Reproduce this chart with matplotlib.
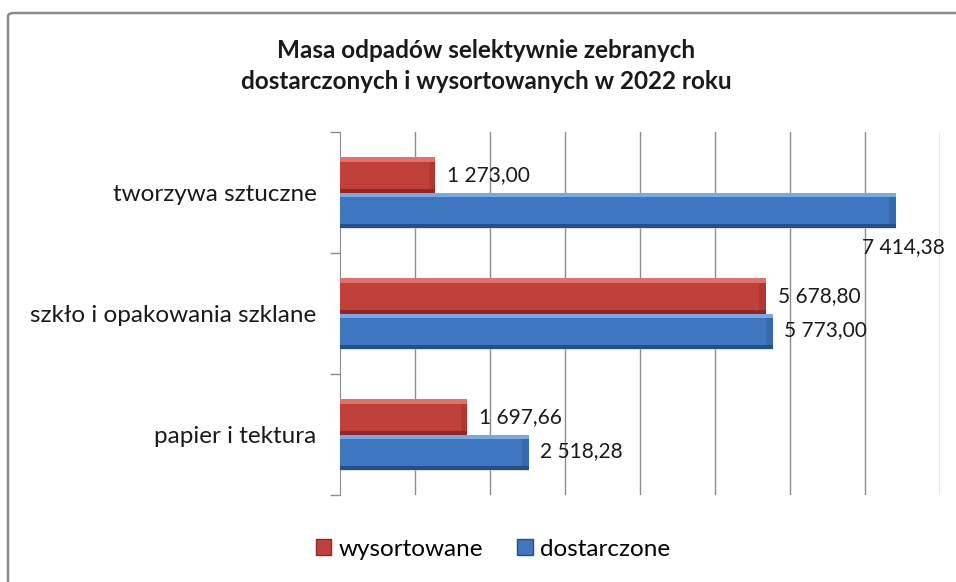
import matplotlib.pyplot as plt
from matplotlib.patches import FancyBboxPatch, Rectangle

# --- dane ---
categories = ["papier i tektura", "szkło i opakowania szklane", "tworzywa sztuczne"]
wysortowane = [1697.66, 5678.80, 1273.00]
dostarczone = [2518.28, 5773.00, 7414.38]
series_names = ["wysortowane", "dostarczone"]

title = "Masa odpadów selektywnie zebranych\ndostarczonych i wysortowanych w 2022 roku"

# kolory (czerwony / niebieski z efektem skosu)
red = {"main": "#C0413B", "light": "#E2706B", "dark": "#8E2824"}
blue = {"main": "#3F76C0", "light": "#78A8E6", "dark": "#234F8A"}

plt.rcParams['font.family'] = ['Lato', 'DejaVu Sans']

W, H = 956, 582
fig = plt.figure(figsize=(W / 100, H / 100), dpi=100)

# ramka wykresu (wychodzi poza prawą i dolną krawędź)
frame = FancyBboxPatch((8 / W, -0.05), 1.1, 1 - 13 / H + 0.05,
                       boxstyle="round,pad=0,rounding_size=0.006",
                       transform=fig.transFigure, facecolor="none",
                       edgecolor="#8C8C8C", linewidth=1.8, zorder=0)
fig.patches.append(frame)

ax = fig.add_axes([340 / W, 1 - 495 / H, 600 / W, 363 / H])
ax.set_facecolor("none")
ax.set_zorder(2)

bh = 0.29
y = list(range(len(categories)))


def fmt(v):
    return f"{v:,.2f}".replace(",", " ").replace(".", ",")


def bevel_bars(vals, ypos, col):
    # cień
    ax.barh([p - 0.015 for p in ypos], vals, height=bh, left=0,
            color="#BFBFBF", alpha=0.5, zorder=2)
    ax.barh(ypos, vals, height=bh, color=col["main"], zorder=3)
    # jasna krawędź u góry, ciemna u dołu
    ax.barh([p + bh / 2 - 0.02 for p in ypos], vals, height=0.04,
            color=col["light"], zorder=4)
    ax.barh([p - bh / 2 + 0.015 for p in ypos], vals, height=0.03,
            color=col["dark"], zorder=4)
    # skos na końcu słupka
    for v, p in zip(vals, ypos):
        ax.add_patch(Rectangle((v - 90, p - bh / 2 + 0.03), 90, bh - 0.07,
                               facecolor=col["dark"], alpha=0.35,
                               edgecolor="none", zorder=5))


red_y = [p + bh / 2 for p in y]
blue_y = [p - bh / 2 for p in y]
bevel_bars(wysortowane, red_y, red)
bevel_bars(dostarczone, blue_y, blue)

label_kw = dict(fontsize=15, color="#1A1A1A", va="center", ha="left",
                textcoords="offset pixels", annotation_clip=False, zorder=6)
for v, p in zip(wysortowane, red_y):
    ax.annotate(fmt(v), (v, p), xytext=(12, 0), **label_kw)
for v, p in zip(dostarczone, blue_y):
    if v > 7000:
        # etykieta pod słupkiem, jak w oryginale
        ax.annotate(fmt(v), (v, p - bh / 2), xytext=(-34, -20), **label_kw)
    else:
        ax.annotate(fmt(v), (v, p), xytext=(11, 1), **label_kw)

ax.set_xlim(0, 8000)
ax.set_ylim(-0.5, len(categories) - 0.5)
ax.set_xticks(range(1000, 8001, 1000))
ax.tick_params(axis="x", length=0, labelbottom=False)
ax.grid(axis="x", color="#8C8C8C", linewidth=1.0, zorder=1)
ax.set_axisbelow(True)

# oś kategorii ze znacznikami na granicach
ax.set_yticks([p + 0.5 for p in [-1] + y])
ax.set_yticklabels([])
ax.tick_params(axis="y", length=7, color="#8C8C8C", width=1.0)
ax.set_yticks(y, minor=True)
ax.set_yticklabels(categories, minor=True, fontsize=17.5, color="#1A1A1A")
ax.tick_params(axis="y", which="minor", length=0, pad=17)
for s in ["top", "right", "bottom"]:
    ax.spines[s].set_visible(False)
ax.spines["left"].set_color("#8C8C8C")

fig.text(486 / W, 1 - 66 / H, title, ha="center", va="center",
         fontsize=17.5, fontweight="bold", linespacing=1.45, color="#1A1A1A")

handles = [Rectangle((0, 0), 1, 1, facecolor=red["main"], edgecolor=red["dark"]),
           Rectangle((0, 0), 1, 1, facecolor=blue["main"], edgecolor=blue["dark"])]
fig.legend(handles, series_names, loc="center", bbox_to_anchor=(493 / W, 1 - 549 / H),
           ncol=2, frameon=False, fontsize=17.5, handlelength=0.65, handleheight=0.65,
           handletextpad=0.3, columnspacing=1.4)

fig.savefig("out.png", dpi=100)
